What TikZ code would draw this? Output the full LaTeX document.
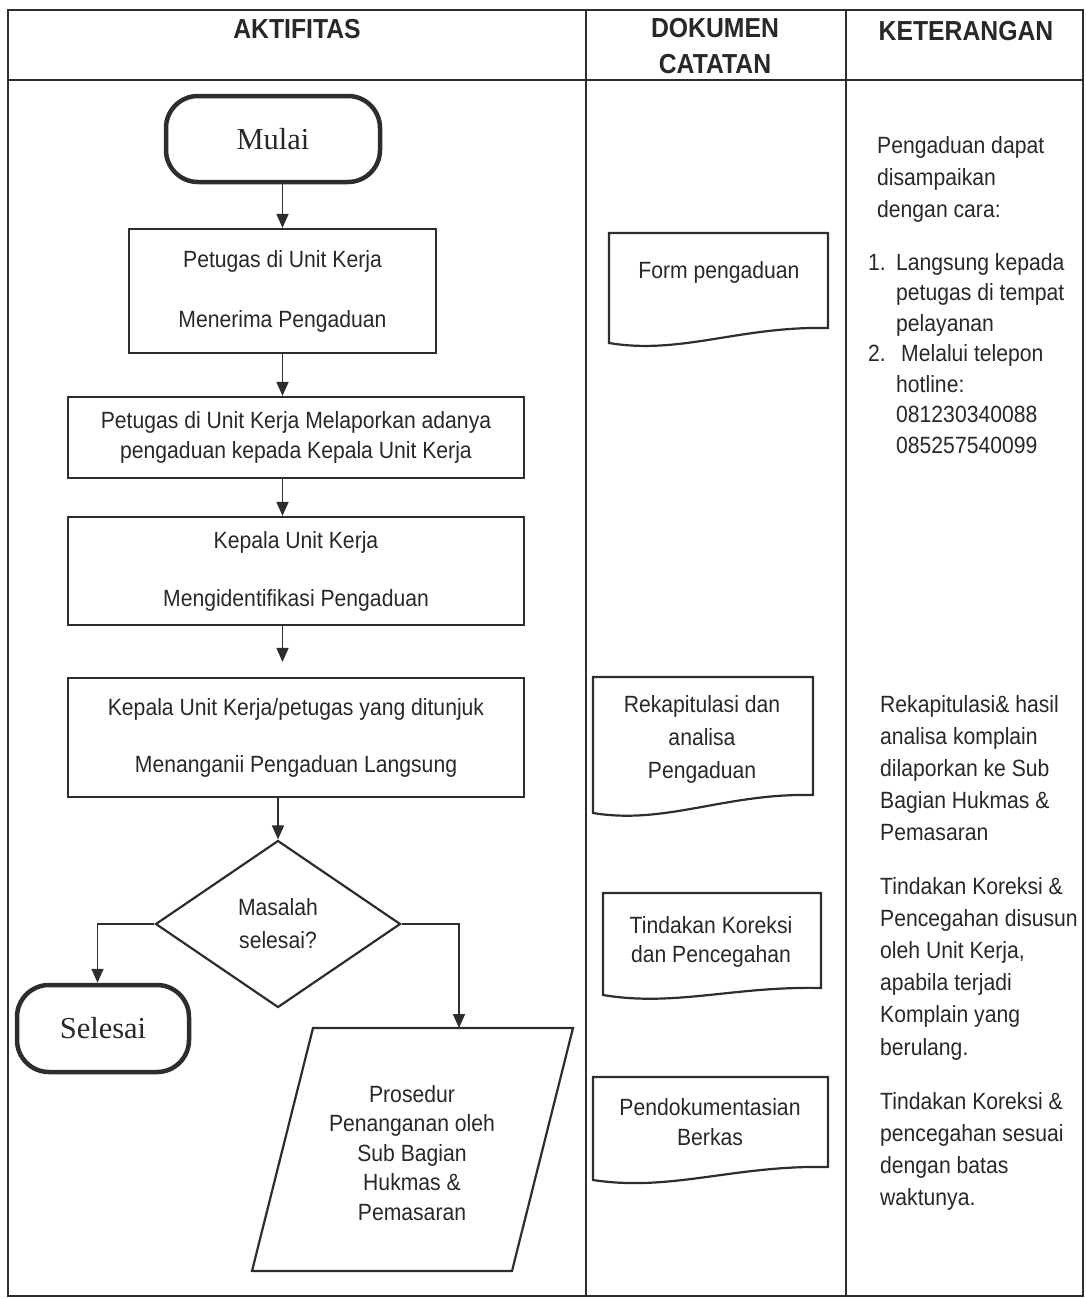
\documentclass[tikz,border=0pt]{standalone}
\usepackage{fontspec}
\setmainfont{Liberation Sans}
\newfontfamily\bodyfam{Liberation Sans}[FakeStretch=0.9]
\newfontfamily\serfam{Liberation Serif}
\usetikzlibrary{shapes.geometric,arrows.meta,calc}
\definecolor{lc}{RGB}{45,45,45}
\definecolor{tc}{RGB}{40,40,40}
\tikzset{
  tbl/.style={draw=lc, line width=1.8pt},
  shp/.style={draw=lc, line width=2.2pt},
  boxst/.style={draw=lc, line width=2.2pt, rectangle, inner sep=0pt, align=center, text=tc,
    font=\bodyfam\fontsize{23.5}{30}\selectfont},
  termst/.style={draw=lc, line width=4.5pt, rectangle, rounded corners=32pt, inner sep=0pt, text=tc,
    font=\serfam\fontsize{30.5}{36}\selectfont},
  diast/.style={draw=lc, line width=2.2pt, diamond, inner sep=0pt, align=center, text=tc,
    font=\bodyfam\fontsize{23.5}{33}\selectfont},
  arr/.style={draw=lc, line width=1.6pt, -{Triangle[length=14pt,width=12pt]}},
  hdr/.style={inner sep=0pt, anchor=base, align=center, text=tc,
    font=\bodyfam\bfseries\fontsize{27.5}{36}\selectfont},
  doctxt/.style={inner sep=0pt, anchor=base, align=center, text=tc},
  ket/.style={inner sep=0pt, anchor=base west, align=left, text=tc},
}
\begin{document}
\begin{tikzpicture}[x=1pt,y=-1pt]
\useasboundingbox (0,0) rectangle (1086,1299);
% table
\draw[tbl] (8,10) rectangle (1083,1296);
\draw[tbl] (8,80) -- (1083,80);
\draw[tbl] (586,10) -- (586,1296);
\draw[tbl] (846,10) -- (846,1296);
% headers (multi-line nodes: base = last line)
\node[hdr] (hA) at (297,38) {AKTIFITAS};
\node[hdr] (hD) at (715,73) {DOKUMEN\\CATATAN};
\node[hdr] (hK) at (966,40) {KETERANGAN};
% flow
\node[termst, minimum width=214pt, minimum height=86pt] (mulai) at (273,139) {Mulai};
\node[boxst, minimum width=307pt, minimum height=124pt] (b1) at (282.5,291)
  {Petugas di Unit Kerja\\[30pt]Menerima Pengaduan};
\node[boxst, minimum width=456pt, minimum height=81pt] (b2) at (296,437.5)
  {Petugas di Unit Kerja Melaporkan adanya\\pengaduan kepada Kepala Unit Kerja};
\node[boxst, minimum width=456pt, minimum height=108pt] (b3) at (296,571)
  {Kepala Unit Kerja\\[28pt]Mengidentifikasi Pengaduan};
\node[boxst, minimum width=456pt, minimum height=119pt] (b4) at (296,737.5)
  {Kepala Unit Kerja/petugas yang ditunjuk\\[27pt]Menanganii Pengaduan Langsung};
\node[diast, minimum width=245pt, minimum height=167pt, aspect=1.47] (dia) at (278,924)
  {Masalah\\selesai?};
\node[termst, minimum width=172pt, minimum height=87pt] (sel) at (103,1028.5) {Selesai};
\draw[shp] (313,1028) -- (573,1028) -- (512,1271) -- (252,1271) -- cycle;
\coordinate (ptop) at (459,1028);
\node[doctxt, font=\bodyfam\fontsize{23.5}{29.5}\selectfont] (proc) at (412,1220)
  {Prosedur\\Penanganan oleh\\Sub Bagian\\Hukmas \&\\Pemasaran};
% arrows
\draw[arr] (mulai.south -| b1.north) -- (b1.north);
\draw[arr] (b1.south) -- (b1.south |- b2.north);
\draw[arr] (b2.south -| b1.south) -- (b1.south |- b3.north);
\draw[arr, shorten >=15pt] (b3.south -| b1.south) -- (b1.south |- b4.north);
\draw[arr] (b4.south -| dia.north) -- (dia.north);
\draw[arr] (dia.west) -| ($(sel.north)+(-5.5,0)$);
\draw[arr] (dia.east) -| (ptop);
% documents
\draw[shp] (609,343) -- (609,233) -- (828,233) -- (828,328) .. controls (740,326) and (681,355) .. cycle;
\node[doctxt, font=\bodyfam\fontsize{23.5}{30}\selectfont] (d1) at (719,278) {Form pengaduan};
\draw[shp] (593,813) -- (593,677) -- (813,677) -- (813,795) .. controls (725,793) and (666,825) .. cycle;
\node[doctxt, font=\bodyfam\fontsize{23.5}{33}\selectfont] (d2) at (702,778) {Rekapitulasi dan\\analisa\\Pengaduan};
\draw[shp] (603,995) -- (603,893) -- (821,893) -- (821,988) .. controls (734,986) and (675,1007) .. cycle;
\node[doctxt, font=\bodyfam\fontsize{23.5}{29.5}\selectfont] (d3) at (711,962.5) {Tindakan Koreksi\\dan Pencegahan};
\draw[shp] (593,1180) -- (593,1077) -- (828,1077) -- (828,1167) .. controls (734,1165) and (671,1192) .. cycle;
\node[doctxt, font=\bodyfam\fontsize{23.5}{30}\selectfont] (d4) at (710,1145) {Pendokumentasian\\Berkas};
% keterangan
\node[ket, font=\bodyfam\fontsize{23.5}{32}\selectfont] (k1) at (877,217)
  {Pengaduan dapat\\disampaikan\\dengan cara:};
\node[ket, font=\bodyfam\fontsize{23.5}{30.5}\selectfont] (n1) at (868,270) {1.};
\node[ket, font=\bodyfam\fontsize{23.5}{30.5}\selectfont] (n2) at (868,361.5) {2.};
\node[ket, font=\bodyfam\fontsize{23.5}{30.5}\selectfont] (k2) at (896,453)
  {Langsung kepada\\petugas di tempat\\pelayanan\\\hspace{5pt}Melalui telepon\\hotline:\\081230340088\\085257540099};
\node[ket, font=\bodyfam\fontsize{23.5}{31.8}\selectfont] (k3) at (880,840)
  {Rekapitulasi\& hasil\\analisa komplain\\dilaporkan ke Sub\\Bagian Hukmas \&\\Pemasaran};
\node[ket, font=\bodyfam\fontsize{23.5}{32.2}\selectfont] (k4) at (880,1055)
  {Tindakan Koreksi \&\\Pencegahan disusun\\oleh Unit Kerja,\\apabila terjadi\\Komplain yang\\berulang.};
\node[ket, font=\bodyfam\fontsize{23.5}{32}\selectfont] (k5) at (880,1205)
  {Tindakan Koreksi \&\\pencegahan sesuai\\dengan batas\\waktunya.};
\end{tikzpicture}
\end{document}
